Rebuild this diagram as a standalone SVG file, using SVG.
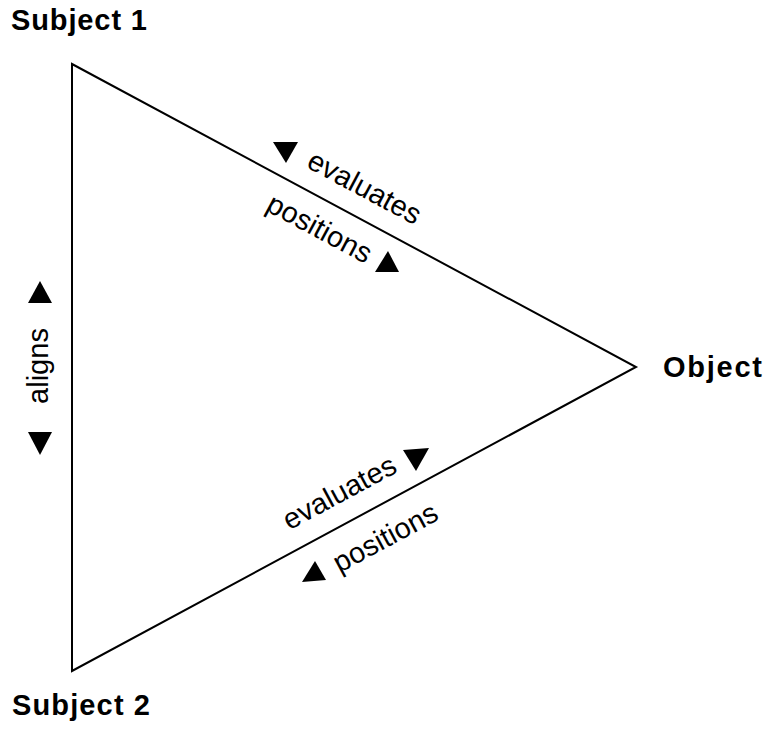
<svg xmlns="http://www.w3.org/2000/svg" width="768" height="731" viewBox="0 0 768 731">
<style>
.lbl{font-family:"Liberation Sans",Arial,sans-serif;font-weight:bold;font-size:29px;fill:#000}
.edge{font-family:"Liberation Sans",Arial,sans-serif;font-size:29px;fill:#000;text-anchor:middle}
.ar{fill:#000}
</style>
<rect width="768" height="731" fill="#fff"/>
<g id="connectors">
<polygon points="72,64 636,367 72,671" fill="none" stroke="#000" stroke-width="2" stroke-linejoin="miter"/>
</g>
<g id="subject1"><text class="lbl" x="11" y="30" textLength="136" lengthAdjust="spacing">Subject 1</text></g>
<g id="object"><text class="lbl" x="663" y="377" textLength="99" lengthAdjust="spacing">Object</text></g>
<g id="subject2"><text class="lbl" x="12" y="715" textLength="138" lengthAdjust="spacing">Subject 2</text></g>
<g id="edge-top">
<polygon class="ar" points="273,142 298,142 286,163"/>
<text class="edge" transform="translate(360,196) rotate(28.2)">evaluates</text>
<polygon class="ar" points="375,272 399,272 388,251"/>
<text class="edge" transform="translate(315,237) rotate(28.2)">positions</text>
</g>
<g id="edge-bottom">
<polygon class="ar" points="403,450 429,448 416,471"/>
<text class="edge" transform="translate(344,501) rotate(-28.3)">evaluates</text>
<polygon class="ar" points="302,582 326,580 315,561"/>
<text class="edge" transform="translate(390,546) rotate(-28.3)">positions</text>
</g>
<g id="edge-left">
<polygon class="ar" points="28,303 52,303 40,281"/>
<text class="edge" transform="translate(48,366) rotate(-90)">aligns</text>
<polygon class="ar" points="28,432 52,432 40,455"/>
</g>
</svg>
